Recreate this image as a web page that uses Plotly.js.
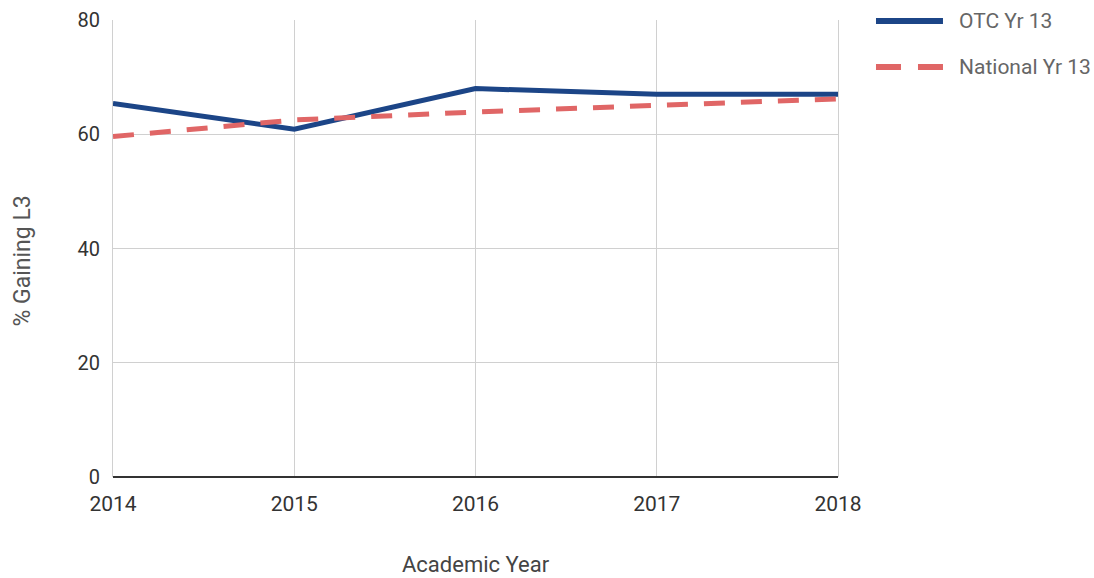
<!DOCTYPE html>
<html>
<head>
<meta charset="utf-8">
<script src="https://cdn.plot.ly/plotly-3.0.1.min.js"></script>
<style>
  html, body { margin: 0; padding: 0; background: #fff; }
  #chart { width: 1094px; height: 578px; }
</style>
</head>
<body>
<div id="chart"></div>
<script>
// Academic years and the share of students gaining Level 3
const years = [2014, 2015, 2016, 2017, 2018];
const otcYr13 = [65.4, 60.9, 68.0, 67.0, 67.0];
const nationalYr13 = [59.6, 62.5, 63.9, 65.1, 66.2];
const seriesNames = ['OTC Yr 13', 'National Yr 13'];
const yTicks = [0, 20, 40, 60, 80];

const blue = '#1c4587';
const red = '#e06666';
const font = 'Roboto, "Noto Sans", Arial, sans-serif';

const traces = [
  {
    x: years, y: otcYr13, name: seriesNames[0], type: 'scatter', mode: 'lines',
    line: { color: blue, width: 5 }, showlegend: false, hoverinfo: 'x+y+name'
  },
  {
    x: years, y: nationalYr13, name: seriesNames[1], type: 'scatter', mode: 'lines',
    line: { color: red, width: 5, dash: '21px,16px' }, showlegend: false, hoverinfo: 'x+y+name'
  }
];

// Legend drawn as paper-anchored swatches with labels to the right of the plot
const legendColors = [blue, red];
const legendDashes = ['solid', '25px,17px'];
const legendY = [0.998, 0.897];
const shapes = seriesNames.map((n, i) => ({
  type: 'line', xref: 'paper', yref: 'paper',
  x0: 1.0524, x1: 1.1448, y0: legendY[i], y1: legendY[i],
  line: { color: legendColors[i], width: 6, dash: legendDashes[i] }
}));
const annotations = seriesNames.map((n, i) => ({
  text: n, xref: 'paper', yref: 'paper', x: 1.1640, y: legendY[i],
  xanchor: 'left', yanchor: 'middle', showarrow: false,
  font: { family: font, size: 21, color: '#666' }
}));
annotations.push({
  text: 'Academic Year', xref: 'paper', yref: 'paper', x: 0.5, y: 0,
  xanchor: 'center', yanchor: 'middle', yshift: -87, showarrow: false,
  font: { family: font, size: 22, color: '#444' }
});
annotations.push({
  text: '% Gaining L3', xref: 'paper', yref: 'paper', x: 0, y: 0.5,
  xanchor: 'center', yanchor: 'middle', xshift: -91, yshift: -13,
  textangle: -90, showarrow: false,
  font: { family: font, size: 23, color: '#555' }
});

const layout = {
  width: 1094, height: 578,
  margin: { l: 113, r: 256, t: 20, b: 101 },
  paper_bgcolor: '#fff', plot_bgcolor: '#fff',
  font: { family: font, color: '#333' },
  xaxis: {
    range: [2014, 2018], tickvals: years, ticktext: years.map(String),
    showgrid: true, gridcolor: '#d0d0d0', gridwidth: 1,
    zeroline: false, showline: false, ticks: '',
    ticklabelstandoff: 12,
    tickfont: { family: font, size: 21, color: '#333' },
    fixedrange: true
  },
  yaxis: {
    range: [0, 80], tickvals: yTicks, ticktext: yTicks.map(String),
    showgrid: true, gridcolor: '#d0d0d0', gridwidth: 1,
    zeroline: true, zerolinecolor: '#333', zerolinewidth: 2,
    showline: true, mirror: true, linecolor: '#d0d0d0', linewidth: 1,
    ticks: '',
    ticklabelstandoff: 8,
    tickfont: { family: font, size: 20, color: '#333' },
    fixedrange: true
  },
  shapes: shapes,
  annotations: annotations,
  showlegend: false
};

Plotly.newPlot('chart', traces, layout, { displayModeBar: false, staticPlot: true });
</script>
</body>
</html>
